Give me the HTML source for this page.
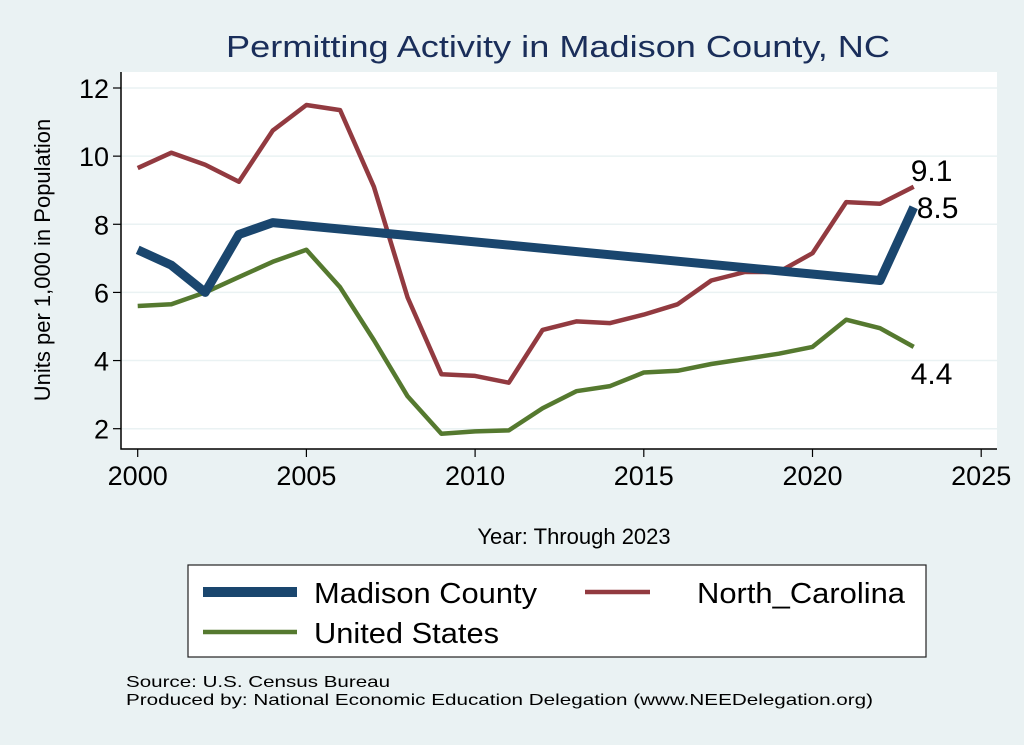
<!DOCTYPE html>
<html><head><meta charset="utf-8"><style>
body{margin:0;background:#eaf2f3;}
svg{display:block;font-family:"Liberation Sans",sans-serif;}
</style></head><body>
<svg width="1024" height="745" viewBox="0 0 1024 745">
<rect x="0" y="0" width="1024" height="745" fill="#eaf2f3"/>
<text x="558" y="57" text-anchor="middle" font-size="31" fill="#1a2e5a" textLength="664" lengthAdjust="spacingAndGlyphs">Permitting Activity in Madison County, NC</text>
<rect x="121" y="72" width="876" height="377" fill="#fff"/>
<g id="grid"></g>
<g id="axes"></g>
<g id="series"></g>
<text x="574" y="544" text-anchor="middle" font-size="22" fill="#000">Year: Through 2023</text>
<text transform="translate(50,260) rotate(-90)" text-anchor="middle" font-size="22" fill="#000">Units per 1,000 in Population</text>
<g>
<rect x="188" y="565" width="738" height="92" fill="#fff" stroke="#222" stroke-width="1.2"/>
<line x1="203" y1="592" x2="297" y2="592" stroke="#1a466e" stroke-width="10"/>
<text x="314" y="603" font-size="29" textLength="223" lengthAdjust="spacingAndGlyphs">Madison County</text>
<line x1="585" y1="592" x2="650" y2="592" stroke="#923a40" stroke-width="4.5"/>
<text x="697" y="603" font-size="29" textLength="208" lengthAdjust="spacingAndGlyphs">North_Carolina</text>
<line x1="203" y1="632" x2="297" y2="632" stroke="#55792f" stroke-width="4.5"/>
<text x="314" y="643" font-size="29" textLength="185" lengthAdjust="spacingAndGlyphs">United States</text>
</g>
<text x="126" y="687" font-size="16" textLength="264" lengthAdjust="spacingAndGlyphs">Source: U.S. Census Bureau</text>
<text x="126" y="705" font-size="16" textLength="747" lengthAdjust="spacingAndGlyphs">Produced by: National Economic Education Delegation (www.NEEDelegation.org)</text>
</svg>
<script>
const years=[2000,2001,2002,2003,2004,2005,2006,2007,2008,2009,2010,2011,2012,2013,2014,2015,2016,2017,2018,2019,2020,2021,2022,2023];
const madisonYears=[2000,2001,2002,2003,2004,2022,2023];
const madisonValues=[7.25,6.8,6.0,7.7,8.05,6.35,8.5];
const ncValues=[9.65,10.1,9.75,9.25,10.75,11.5,11.35,9.1,5.85,3.6,3.55,3.35,4.9,5.15,5.1,5.35,5.65,6.35,6.6,6.6,7.15,8.65,8.6,9.1];
const usValues=[5.6,5.65,6.0,6.45,6.9,7.25,6.15,4.6,2.95,1.85,1.92,1.95,2.6,3.1,3.25,3.65,3.7,3.9,4.05,4.2,4.4,5.2,4.95,4.4];
const xTicks=[2000,2005,2010,2015,2020,2025];
const yTicks=[2,4,6,8,10,12];
const NS='http://www.w3.org/2000/svg';
function X(y){return 137.7+(y-2000)*33.74;}
function Y(v){return 428.7-(v-2)*34.07;}
function mk(tag,attrs,parent){const e=document.createElementNS(NS,tag);for(const k in attrs)e.setAttribute(k,attrs[k]);document.getElementById(parent).appendChild(e);return e;}
yTicks.forEach(t=>{
 const g=mk('line',{x1:121,x2:997,y1:Y(t),y2:Y(t),stroke:'#eaf2f3','stroke-width':1.5},'grid');
 
 
 const tk=mk('line',{x1:113,x2:121,y1:Y(t),y2:Y(t),stroke:'#000','stroke-width':1.2},'axes');
 
 
 const lb=mk('text',{x:109,y:Y(t)+10,'text-anchor':'end','font-size':27},'axes');
 lb.textContent=t;
 
 
});
xTicks.forEach(t=>{
 const tk=mk('line',{x1:X(t),x2:X(t),y1:449,y2:457,stroke:'#000','stroke-width':1.2},'axes');
 
 
 const lb=mk('text',{x:X(t),y:485,'text-anchor':'middle','font-size':27},'axes');
 lb.textContent=t;
 
 
});
const ax=mk('path',{d:'M121,72 V449 H997',fill:'none',stroke:'#000','stroke-width':1.5},'axes');


function line(xs,vs,color,w,name){
 const d=xs.map((y,i)=>(i?'L':'M')+X(y).toFixed(1)+','+Y(vs[i]).toFixed(1)).join(' ');
 const p=mk('path',{d:d,fill:'none',stroke:color,'stroke-width':w,'stroke-linejoin':'round'},'series');
 
 
}
line(years,ncValues,'#923a40',4.5,'line-north-carolina');
line(years,usValues,'#55792f',4.5,'line-united-states');
line(madisonYears,madisonValues,'#1a466e',9,'line-madison-county');
function endLabel(v,xoff,yoff,name){
 const t=mk('text',{x:X(2023)+xoff,y:Y(v)+yoff,'font-size':30},'series');
 t.textContent=v.toFixed(1);
 
 
}
endLabel(ncValues[ncValues.length-1],-3,-6,'label-nc-end');
endLabel(madisonValues[madisonValues.length-1],3,11,'label-madison-end');
endLabel(usValues[usValues.length-1],-3,37,'label-us-end');
</script>
</body></html>
